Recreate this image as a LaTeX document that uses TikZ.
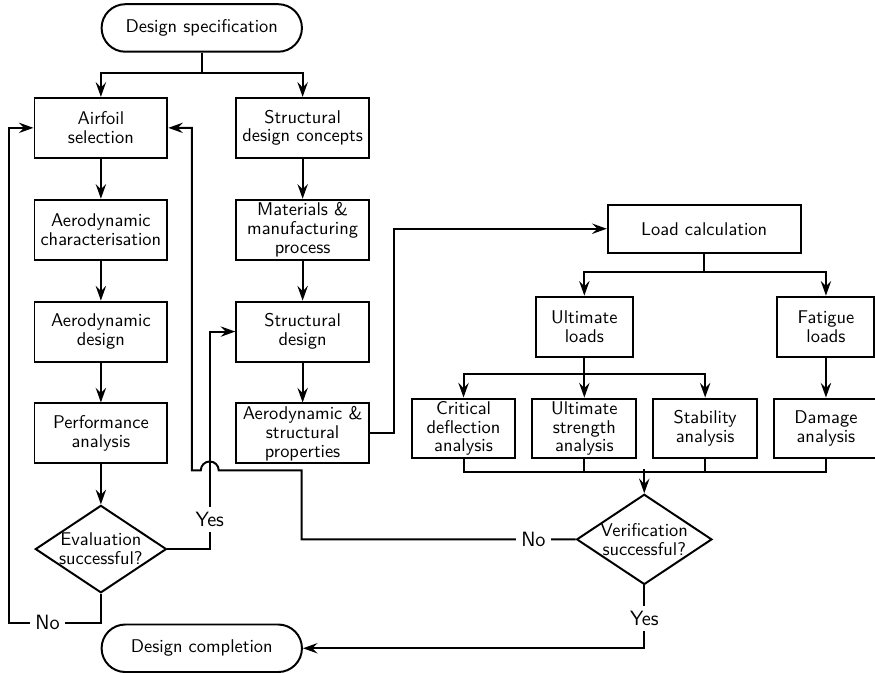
\documentclass[tikz,border=0pt]{standalone}
\usetikzlibrary{arrows.meta,positioning,shapes.geometric,shapes.misc}

\begin{document}
\begin{tikzpicture}[>={Stealth[length=8.5pt, width=6pt, inset=3pt]}, x=0.58pt, y=-0.58pt, line width=1.15pt, node distance=23.2pt]
	\tikzstyle{every node}=[font=\sffamily\fontsize{10.7}{10.9}\selectfont]
	\tikzstyle{block}=[rectangle, draw, align=center, inner sep=1pt, minimum width=77.1pt, minimum height=34.8pt]
	\tikzstyle{check}=[block, minimum width=60.3pt]
	\tikzstyle{loads}=[block, minimum width=56.3pt]
	\tikzstyle{terminal}=[rounded rectangle, draw, minimum width=123pt, minimum height=27.6pt]
	\tikzstyle{decision}=[diamond, draw, align=center, aspect=1.5, inner sep=0pt, minimum width=74.8pt, minimum height=49.9pt]
	\tikzstyle{answer}=[fill=white, inner sep=3pt, font=\sffamily\large]
	\useasboundingbox (0,0) rectangle (876,673);

	\node[terminal]	(spec)	at (202,28)	{Design specification};
	\node[block]	(airfoil)	at (101,128)	{Airfoil\\selection};
	\node[block]	(concepts)	[right=38.9pt of airfoil]	{Structural\\design concepts};
	\node[block]	(aerochar)	[below=of airfoil]	{Aerodynamic\\characterisation};
	\node[block]	(aerodesign)	[below=of aerochar]	{Aerodynamic\\design};
	\node[block]	(perf)	[below=of aerodesign]	{Performance\\analysis};
	\node[decision]	(eval)	[below=of perf]	{Evaluation\\successful?};
	\node[block]	(materials)	[below=of concepts]	{Materials \&\\manufacturing\\process};
	\node[block]	(structdesign)	[below=of materials]	{Structural\\design};
	\node[block]	(props)	[below=of structdesign]	{Aerodynamic \&\\structural\\properties};
	\node[block, minimum width=112pt, minimum height=27.8pt]	(loadcalc)	at (705,229)	{Load calculation};
	\node[loads]	(ultimate)	at (585,327)	{Ultimate\\loads};
	\node[check]	(ultstrength)	[below=of ultimate]	{Ultimate\\strength\\analysis};
	\node[check]	(deflection)	[left=8.7pt of ultstrength]	{Critical\\deflection\\analysis};
	\node[check]	(stability)	[right=8.7pt of ultstrength]	{Stability\\analysis};
	\node[check]	(damage)	[right=8.7pt of stability]	{Damage\\analysis};
	\node[loads]	(fatigue)	[above=of damage]	{Fatigue\\loads};
	\node[decision]	(verify)	at (645,540)	{Verification\\successful?};
	\node[terminal]	(completion)	at (202,649)	{Design completion};
	\coordinate (nocorner) at (302,471);
	\coordinate (merge) at (645,470);

	\draw[->] (spec.south) -- ++(0,20) -| (airfoil.north);
	\draw[->] (spec.south) -- ++(0,20) -| (concepts.north);
	\path[->]
	(airfoil)	edge	(aerochar)
	(aerochar)	edge	(aerodesign)
	(aerodesign)	edge	(perf)
	(perf)	edge	(eval)
	(concepts)	edge	(materials)
	(materials)	edge	(structdesign)
	(structdesign)	edge	(props)
	(ultimate)	edge	(ultstrength)
	(fatigue)	edge	(damage)
	(merge)	edge	(verify);
	\draw[->] (eval.east) -| node[answer, pos=0.6]{Yes} (210,400) |- (structdesign.west);
	\draw[->] (eval.south) -- ++(0,29) -| node[answer, pos=0.29]{No} ([xshift=-14.2pt]airfoil.west) -- (airfoil.west);
	\draw[->] (verify.west) -| node[answer, pos=0.077]{No} (nocorner) -- ++(-83,0) arc[start angle=0, end angle=-180, radius=9] -- ++(-9,0) |- (airfoil.east);
	\draw[->] (verify.south) |- node[answer, pos=0.26]{Yes} (completion.east);
	\draw[->] (props.east) -- ++(24,0) |- (loadcalc.west);
	\draw[->] (loadcalc.south) -- ++(0,18) -| (ultimate.north);
	\draw[->] (loadcalc.south) -- ++(0,18) -| (fatigue.north);
	\draw[->] (ultimate.south) -- ++(0,16) -| (deflection.north);
	\draw[->] (ultimate.south) -- ++(0,16) -| (stability.north);
	\draw (deflection.south) -- ++(0,13) -| (damage.south);
	\draw (ultstrength.south) -- ++(0,13);
	\draw (stability.south) -- ++(0,13);
\end{tikzpicture}
\end{document}
